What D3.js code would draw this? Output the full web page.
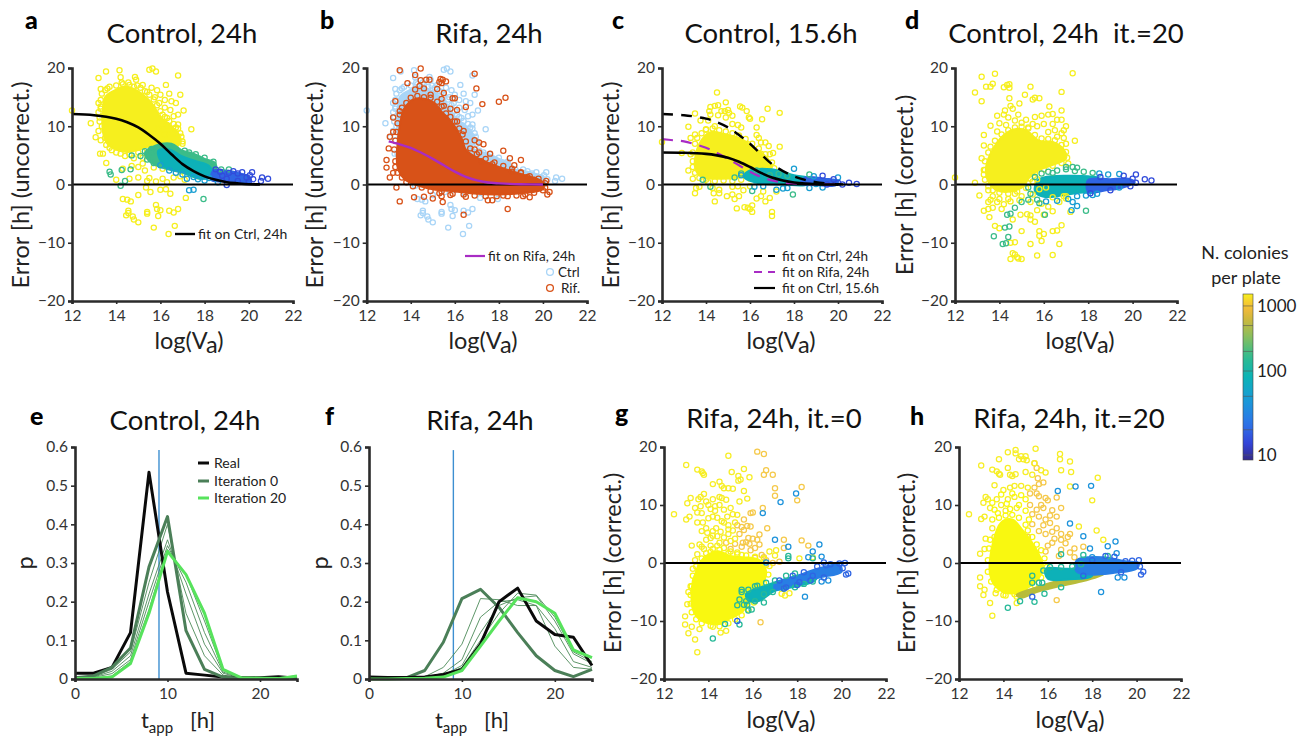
<!DOCTYPE html>
<html><head><meta charset="utf-8">
<script src="https://cdn.jsdelivr.net/npm/d3@7"></script>
<style>html,body{margin:0;padding:0;background:#fff}svg{display:block;font-family:Lato,"Noto Sans",sans-serif}</style>
</head><body><svg id="c" width="1312" height="737"></svg>
<script>
// ---------- colony-count groups ----------
const N_YELLOW=1500,N_GREEN=180,N_TEAL=80,N_CYAN=50,N_BLUE=20,N_DEEP=15;
const cbTicks=[10,100,1000];
const cbMinor=[10,20,50,100,200,500,1000];
const tBins=[0,2,4,6,8,10,12,14,16,18,20,22,24];

// ---------- fits ----------
const fitCtrl24=[[12,12.1],[13,11.9],[14,11.3],[14.5,10.7],[15,9.8],[15.5,8.5],[16,7],[16.5,5.2],[17,3.5],[17.5,2.3],[18,1.4],[18.5,.8],[19,.4],[19.5,.2],[20,.05],[20.5,.02]];
const fitRifa24=[[13,7.4],[13.5,6.9],[14,6.3],[14.5,5.4],[15,4.4],[15.5,3.3],[16,2.2],[16.5,1.3],[17,.7],[17.5,.35],[18,.2],[18.5,.1],[19,.05],[20,0]];
const fitRifa24Long=[[12,7.8],[12.5,7.6],...fitRifa24];
const fitCtrl156=[[12,5.5],[13,5.45],[14,5.25],[14.5,5],[15,4.6],[15.5,3.9],[16,3],[16.5,2],[17,1.2],[17.5,.7],[18,.35],[18.5,.15],[19,.05],[20,0]];

// ---------- panel a: Control 24h ----------
const aCoreYellow=[[13.4,12],[13.5,15],[14,16.3],[14.5,16.8],[15,16],[15.4,14.8],[15.7,13.5],[16,11.5],[16.5,10],[16.85,8.5],[16.9,7],[16.5,6.5],[16,6.6],[15.5,6.6],[15,5.9],[14.5,5.6],[14,6],[13.6,7],[13.4,9]];
const aCoreGreen=[[15.3,5.4],[15.8,6.7],[16.5,7],[17,5.8],[17.5,5.3],[18,4.4],[18.5,3.6],[18.4,1.5],[17.8,1],[17,2],[16,3],[15.5,4]];
const aCoreTeal=[[15.9,5.8],[16.4,6],[17,4.8],[17.6,4],[18.2,3.2],[18.4,1.4],[17.8,1],[17,2.2],[16.2,3]];
const aCoreBlue=[[18.4,2.4],[19,2.4],[19.8,1.7],[20,1.5],[20.1,.5],[19.5,.3],[18.8,.5],[18.3,.8]];
const aYellow=[[13.54,19.4],[14.15,19.6],[15.5,19.7],[15.64,19.9],[15.8,19.4],[16.8,18.7],[13.2,18.3],[14.2,18.4],[14.85,18.45],[14.9,18],[14.55,17.5],[14.25,17.5],[15.2,17.1],[16.25,17.1],[15.6,16.6],[13.3,16.4],[13.6,16.5],[15.85,16.2],[16,15.4],[16.4,15.6],[16.9,15.4],[16.2,14.5],[16.5,14.3],[16.7,14],[15.95,14],[16.45,12.8],[17.05,12.7],[16.8,12],[16.6,11.7],[17.4,9.5],[16.8,10.3],[16.9,8.8],[17,7.4],[12.85,10.5],[13.07,8.1],[12,12.7],[13.27,5.3],[13.4,5.3],[13.55,3.7],[14,.8],[13.2,14],[13.3,13],[13.25,11.5],[13.35,10],[13.5,8],[13.7,6.3],[14,5.5],[14.4,4.9],[14.8,4.5],[16.1,12],[16.3,11.4],[16.3,10.2],[16.7,9.8],[16.55,8.7],[16.2,13.2],[15.75,15],[15.4,15.9],[14.95,17],[15.3,2.4],[15.7,2.9],[16.1,2.7],[15.5,1.1],[15.8,.5],[16.1,1],[16.3,.4],[16.6,1.2],[16.9,1.4],[17.1,.8],[14.3,2.7],[14.6,1],[15,1.2],[15.4,.6],[15.2,3.6],[15.65,4.5],[14.3,-2.5],[14.5,-2.6],[14.66,-2.9],[14.55,-4.5],[14.55,-4.9],[14.45,-5.3],[15.4,-4.7],[15.4,-5],[14.75,-5.5],[14.8,-6],[15,-6.5],[15.7,-7.4],[15.8,-3.5],[15.85,-4.2],[16,-4.4],[15.9,-5.4],[16.4,-4.5],[16.6,-4.8],[16.8,-4.2],[16.65,-7.1],[16.37,-8.5],[17.15,-2.3],[15,-1.8],[15.35,-.5],[15.55,-1.3],[16,-.9],[16.25,-.8],[16.45,-1.6]];
const aEdge=[[13.3,14.5],[13.35,15.6],[13.5,16.2],[13.7,16.8],[14,17],[14.3,17.2],[14.6,17.1],[14.8,16.8],[15.1,16.6],[15.3,16],[15.5,15.4],[15.7,14.6],[15.85,13.6],[16,12.6],[16.2,11.6],[16.4,10.9],[16.6,10.4],[16.8,9.6],[16.95,8.2],[17,7],[16.7,6.2],[16.3,6.2],[15.8,6.3],[15.4,6],[15,5.5],[14.6,5.2],[14.2,5.3],[13.8,5.9],[13.55,6.8],[13.3,7.6],[13.2,9.2],[13.25,10.8],[13.2,12.4],[13.3,13.4],[13.45,11.9],[15.9,9.6],[16.2,8.6],[15.2,4.6],[15.45,5.2],[14.7,3.2],[15,3]];
const aGreen=[[13.7,2.2],[13.75,1.7],[14.25,2.5],[14.65,2.6],[14.4,.6],[14.2,-.2],[14.7,5],[15.1,4.9],[15.6,5.5],[17.95,-2.5],[17.3,5.5],[17.6,5.2],[18,4.6],[18.4,3.9],[18.75,2.6],[19.1,2.6],[17.1,5.8],[15.3,5.7],[15.6,6.1],[15.4,4.3],[15.7,3.7]];
const aTeal=[[17.3,-1],[17.5,-.9],[17.2,1],[17.7,.9],[18,.7],[18.6,.4],[18.2,1.1],[16.4,2.4],[16,3.3],[16.7,2],[17,1.7],[17.5,1.3]];
const aBlue=[[18.5,2.6],[19,1],[19.3,2.3],[19.7,2.1],[20.15,2.1],[20.2,.9],[20.6,1.2],[20.87,1],[20.05,1.6],[19,-.1],[18.8,1.5],[19.5,.6],[20,.5],[20.55,.6],[18.7,2.2],[19.1,2],[19.5,1.9],[19.9,1.2]];

// ---------- panel b: Rifampicin 24h ----------
const bCoreRif=[[13.4,3],[13.4,7],[13.5,10],[13.7,13],[14.2,14.7],[15,14.2],[15.4,12.5],[15.8,11],[16.3,8],[16.5,6],[17,4.6],[18,3],[19,1.8],[20,.4],[20,-.8],[19,-1.5],[18,-1.7],[17,-1.6],[16,-1.2],[15,-.8],[14.2,0],[13.7,1]];
const bRif=[[13.5,19.6],[14.45,19.9],[14.2,18.8],[14.45,17.9],[14.7,18],[14.85,18],[15.3,17.6],[15.35,18.1],[15.45,18],[15.6,17.7],[15.4,17.4],[16.9,19],[16.98,16.5],[17.25,13.8],[18,14.2],[18.3,14.9],[13.85,17.4],[14.2,16.3],[14.4,16.9],[14.6,16.5],[14.9,15.4],[15.2,16.4],[15.5,15.7],[15.9,14.8],[16,14.8],[16.5,13.3],[15.5,13.5],[15.8,13],[13.3,14.3],[13.5,12.6],[13.2,11.5],[15.4,14.7],[16.1,12.8],[16.1,10.8],[16.4,9.2],[16.9,7.6],[17.1,7.2],[17.3,6.9],[16.9,6],[17.1,5.5],[17.6,5.3],[17.2,4],[17.7,3.5],[18.2,5.8],[18.5,4.5],[19,4.2],[18.7,3.3],[18.6,2.2],[19,2.1],[19.3,1.3],[19.6,.8],[20.15,.6],[13.05,8.2],[13.2,9],[13,6.2],[12.9,4.2],[12.9,2.9],[13.05,1.2],[13.2,2],[13.35,-.5],[13.5,-2.9],[14.15,-2.2],[14.6,-2.1],[15,-2.4],[15.4,-2],[15.45,-3],[16.4,-5.2],[15.8,-1.8],[16.5,-2.1],[17.5,-2.7],[17.7,-2.7],[18.4,-4.2],[18.2,-1.9],[19.1,-2],[19.4,-2.2],[20.2,-1.7],[20.3,-1.3],[20.1,-.5],[15.3,-1.5]];
const bEdge=[[13.3,4],[13.25,6],[13.3,7.5],[13.35,9],[13.4,10.5],[13.5,12],[13.6,13.2],[13.8,14],[14,14.9],[14.3,15.2],[14.6,15],[14.9,14.9],[15.2,14.2],[15.4,13.4],[15.6,12.2],[15.8,11.6],[16,10.8],[16.2,9.6],[16.35,8.6],[16.5,7.4],[16.7,6.2],[17,5.2],[17.4,4.4],[17.8,3.8],[18.2,3.2],[18.6,2.7],[19,2],[19.4,1.4],[19.8,1],[20.1,.2],[20,-1],[19.6,-1.4],[19.2,-1.7],[18.8,-1.9],[18.4,-2],[17.9,-2],[17.4,-2],[16.9,-1.9],[16.4,-1.7],[15.9,-1.6],[15.4,-1.2],[14.9,-1.1],[14.5,-.5],[14.1,-.3],[13.8,.4],[13.6,1.2],[13.4,2],[13.3,3]];

// ---------- panel c: Control 15.6h ----------
const cCoreYellow=[[13.5,3],[13.7,7],[14.2,9],[14.9,8.6],[15.5,8],[16.2,6.3],[16.8,4.5],[17,3],[16.4,2],[15.5,1.2],[14.5,1],[13.8,1.3]];
const cCoreTeal=[[16,2.4],[17,2.6],[18,1.6],[18.7,1],[18.6,0],[17.5,0],[16.3,.3],[15.7,1.4]];
const cCoreBlue=[[18.5,1.2],[19.4,1],[20,.6],[19.9,-.1],[19,-.1],[18.3,.1]];
const cYellow=[[14.5,15.8],[13.5,12.2],[14.2,13.3],[14.4,13.5],[14.55,13.6],[14.9,14.1],[14.15,12.6],[14.7,12.6],[14.85,12.6],[15,12.8],[15.05,12.3],[15.55,13.4],[15.65,13.2],[15.85,12.6],[15.95,11.5],[16,11.3],[14.2,12],[14.55,11.9],[14.9,11.5],[15.2,11.8],[15.2,10.4],[15.45,10.2],[15.6,9.8],[16.55,11.2],[16.8,13],[17.35,12.3],[16.3,9.8],[13.2,9.9],[13.75,11],[14.1,11],[13.3,8],[13.5,8.6],[14,9.5],[14.4,10],[16.3,8.5],[16.4,8],[16.7,7.2],[16.5,7.2],[16.85,6.6],[17.35,6.5],[16.9,5.2],[17.05,5.4],[16.5,5.3],[15.9,6.9],[12,7.3],[12.9,5.4],[13.3,5.2],[13.2,2.4],[13.4,1],[13.55,-.6],[13.7,-.4],[13.5,-1.5],[14.1,.4],[14.3,-.6],[14.35,-1.5],[14.6,-.9],[14.6,-1.5],[14.4,-2.9],[14.95,-2],[15.2,-1.7],[15.3,-2.5],[15.2,-.4],[15.45,-.3],[15.7,-1],[15.5,-2],[15.4,-4.1],[15.75,-3.9],[15.9,-4],[16.1,-3.6],[16,-4.2],[16.1,-4.7],[16.3,-2.4],[16.5,-2],[16.7,-2.9],[16.9,-2.3],[17,-4.7],[17,-5.4],[16.6,-1.2],[17.2,-1.2],[16,-.3]];
const cEdge=[[13.4,4],[13.4,5.5],[13.5,7],[13.6,8],[13.8,8.8],[14,9.4],[14.3,9.6],[14.6,9.3],[14.9,9.1],[15.2,8.8],[15.5,8.4],[15.8,7.8],[16.1,7],[16.4,6.2],[16.7,5.2],[17,3.8],[17.1,2.8],[16.8,1.8],[16.4,1.4],[16,1],[15.6,.8],[15.2,.6],[14.8,.7],[14.4,.6],[14,.8],[13.7,1.1],[13.5,2],[13.4,3]];
const cGreen=[[13.85,.8],[14.2,-.4],[15.3,1.2],[16.1,-1.1],[17.95,-1.7],[18.7,1.7],[17.3,1.8],[17.7,1.5],[16.9,1.6],[16.3,2.4],[15.6,1.9]];
const cTeal=[[18,2.7],[17.2,-.9],[17.5,-.7],[17.7,-.6],[18.7,-.6],[19.3,-.5],[19,.1],[20,1.2],[18.9,1.4],[15.6,1.6],[16.2,-.4],[16.6,-.3]];
const cBlue=[[19.3,1.5],[20,.3],[20.2,0],[20.5,.3],[20.85,.1],[19.8,.9],[19.5,0]];

// ---------- panel d: Control 24h it.=20 ----------
const dCoreYellow=[[13.4,3],[13.7,6],[14.2,8.5],[14.7,9.5],[15.2,9.3],[15.8,7.5],[16.4,7.3],[16.9,6],[17,4.5],[16.5,3.5],[15.8,2.5],[15.3,1],[15.1,-.3],[14.5,-1.2],[13.9,-1],[13.5,.5]];
const dCoreTeal=[[15.7,.6],[16,1.2],[17,1.5],[18,1.4],[18.5,1],[18.5,-1.1],[17.6,-1.4],[16.8,-1.9],[16,-2.1],[15.6,-1.2]];
const dCoreBlue=[[18,.8],[19,.9],[19.8,1],[20.1,.4],[19.5,-.6],[18.8,-1],[18,-1.3]];
const dYellow=[[12.9,15.8],[13.2,18.5],[13.8,19],[13.2,14.3],[13.4,16.8],[13.6,16.8],[13.7,17.3],[14.2,16.7],[14.35,17.1],[14.45,17.2],[14.45,16.6],[15.4,16.8],[14.45,14.8],[15.15,15.4],[15.5,14.6],[15.6,14.9],[15.8,14.8],[16.8,15.9],[17.3,19.1],[16.25,13.4],[16.8,12.7],[14.9,13.9],[14.5,13.5],[14.25,12.7],[14.6,13],[13.9,11.8],[14.2,12],[14.4,11.5],[13.6,10.1],[13.3,8.5],[13.9,9.1],[17,10],[16.9,9.3],[17.4,7.5],[16.4,12.1],[16.6,11.1],[16.8,11.1],[16.2,12],[15.9,11.8],[15.6,11.6],[14.85,12],[15.2,11.1],[15.7,10],[16,10.4],[16.4,10.4],[16.8,8.8],[13.3,6.7],[17.1,3.6],[13.1,-1.9],[12.9,.3],[12,1.2],[13.3,-4.5],[13.5,-4.2],[13.7,-4],[13.55,-5.6],[13.8,-7.1],[14,-7.5],[14.7,-9.9],[14.5,-10],[15.4,-10.2],[15.9,-9.7],[15.8,-8],[16,-8.5],[15.8,-8.8],[15,-8],[16.4,-8],[16.6,-7.9],[16.8,-7],[16.7,-10.2],[15.7,-12.2],[16.4,-12.1],[14.5,-12.8],[14.6,-11.8],[14.7,-12],[14.8,-12.5],[14.85,-12.7],[15,-12.8],[14.6,-6],[14.95,-5.2],[15.25,-5.1],[15.4,-5.3],[15.4,-6],[15.6,-6.4],[15.7,-4.4],[16,-5.2],[16.4,-4.6],[17.2,-4.7],[13.5,-1],[13.7,-2],[14,-2.5],[14.4,-2.5],[14.7,-1.6],[15,-2],[15.4,-3],[15.9,-3.3],[16.2,-3.8],[16.7,-3],[17,-2],[13.2,4.5],[13.35,2.5],[15.3,9.8],[16.6,8.2],[17,7],[15.5,.5],[15.8,-.8],[16.1,-.5],[16.4,-2.2],[16.9,-2],[17,-2.4],[15.7,.9],[15.5,-1.7],[14,10.5],[14.3,10.2],[14.7,11],[15,10.6],[15.5,10.4],[16.2,9],[16.5,9.3],[16.9,8]];
const dEdge=[[13.3,2.5],[13.35,4],[13.5,5.5],[13.6,6.5],[13.8,7.5],[14.1,8.6],[14.4,9.3],[14.7,9.8],[15,9.9],[15.3,9.6],[15.6,8.5],[15.9,7.9],[16.2,7.8],[16.5,7.6],[16.8,6.8],[17,5.6],[17.05,4.6],[16.8,3.7],[16.4,3.2],[16,2.6],[15.6,2],[15.4,1],[15.3,.2],[15.2,-.6],[14.8,-1.2],[14.4,-1.6],[14,-1.4],[13.7,-1],[13.5,-.3],[13.35,.8],[13.3,1.7],[13.6,-2.6],[13.9,-3],[14.2,-3.4],[14.5,-2.9],[14.9,-2.7],[13.5,-3],[14.1,-4.2]];
const dGreen=[[14.25,-7.4],[14.45,-7.2],[13.75,-8.9],[14.4,-9],[14.15,-10.2],[14.3,-10.1],[14.35,-5.2],[14.5,-5],[14.7,-4],[15,-3],[15.3,-2.6],[16.05,-5.2],[17.9,-4.5],[15.8,-3.2],[17,3],[17.5,2.9],[17.3,3],[16.4,2],[15.6,1.3],[15.9,1.9],[16.2,2.2],[16.6,2.4],[17,2.6],[17.4,2.3],[17.8,2.2],[18.2,2],[15.3,-.5],[15.4,-1.6],[15.7,-2.6]];
const dTeal=[[17.5,-3.7],[17.25,-4.4],[17.3,-3],[18.5,1.9],[18.9,1.7],[19.4,1.8],[18.2,-1.8],[19.4,-.5],[16.1,-2.9],[16.6,-2.8],[17.1,-2.5],[17.5,-2],[17.9,-1.9],[18.4,-1.6]];
const dBlue=[[18.55,1.3],[19.6,1.5],[20.15,1.7],[20.15,.3],[20.55,.9],[20.85,.7],[19,-1],[19.9,-.3],[20,1],[18.1,-1.5]];

// ---------- panel e / f distributions ----------
const eReal=[.015,.015,.03,.12,.535,.225,.015,.01,.005,.003,.003,.006,.002];
const eIter0=[.003,.008,.03,.08,.29,.42,.125,.025,.005,.002,.002,.001,.005];
const eIterA=[.003,.007,.025,.07,.25,.4,.17,.06,.01,.002,.002,.001,.005];
const eIterB=[.002,.005,.02,.06,.22,.36,.22,.09,.015,.002,.002,.001,.006];
const eIterC=[.002,.004,.014,.05,.2,.345,.25,.12,.018,.003,.002,.001,.006];
const eIterD=[.001,.002,.008,.045,.18,.335,.27,.15,.022,.003,.002,.001,.007];
const eIter20=[.001,.001,.005,.04,.17,.33,.27,.17,.025,.003,.002,.001,.008];
const fReal=[.005,.004,.004,.005,.012,.025,.09,.2,.235,.15,.115,.108,.035];
const fIter0=[.002,.002,.003,.022,.095,.208,.232,.185,.12,.06,.022,.006,.025];
const fIterA=[.001,.001,.002,.006,.03,.09,.208,.205,.19,.19,.085,.03,.025];
const fIterB=[.001,.001,.001,.004,.015,.05,.16,.2,.205,.19,.13,.045,.03];
const fIterC=[.001,.001,.001,.003,.01,.035,.12,.19,.21,.215,.15,.065,.04];
const fIterD=[.001,.001,.001,.002,.008,.03,.1,.17,.222,.217,.16,.07,.045];
const fIter20=[0,0,.001,.002,.005,.022,.085,.15,.21,.2,.17,.075,.055];

// ---------- panel g: Rifa 24h it.=0 ----------
const gCoreYellow=[[13.3,-3],[13.3,-8],[13.7,-10],[14.5,-10.5],[15,-9.5],[15.5,-8.5],[16,-6],[16.4,-4],[16.6,-1.5],[16.3,.5],[15.5,1],[15,1.2],[14.5,2],[14,1.5],[13.6,0],[13.4,-2]];
const gCoreTeal=[[15.7,-5.3],[16.5,-4],[17.5,-2.7],[18.5,-1.8],[19,-1.2],[18.8,-3],[18,-4],[17,-4.8],[16.3,-6.5],[15.8,-6.5]];
const gCoreBlue=[[17,-3.6],[18,-2.2],[19,-.9],[19.9,-.3],[20,-1.5],[19,-2.5],[18,-3.5],[17,-4.6]];
const gYellow=[[12.45,8.4],[13,16.9],[13.5,16.1],[13.7,15.8],[13.75,15.5],[13.8,15.2],[14.9,18.5],[15.05,15.7],[15.35,15],[15.6,16.2],[15.35,14.2],[15.45,14.4],[15.85,14.8],[14.5,14],[14.2,13.6],[14.6,13.3],[14.7,12.9],[14.9,12.9],[15.1,12.8],[15.6,12.4],[15.75,11.1],[15.4,10.6],[13.8,11.9],[13.65,11.4],[13.55,11],[13.2,11.2],[13.05,10.3],[13,7.5],[13.15,8],[13.5,7],[13.7,8.6],[14.3,9.8],[14.8,10.9],[15,9.5],[15.3,8.3],[14,10],[13.4,9.5],[14.5,11.4],[14.2,8],[14.6,7.2],[14.9,6.5],[13.9,6],[13.95,5.2],[14.2,4.7],[13.25,3],[13.6,3.2],[14.2,5.5],[14.7,7],[14.1,3],[14.5,3.5],[13.8,2.4],[14.9,5],[13.1,-5],[13.05,-7.1],[13.2,-4],[12.95,-9.2],[12.95,-10.6],[13.1,-12.1],[13.4,-13.2],[13.5,-15.4],[13.6,-11.4],[13.25,-11],[14.55,-12],[14.8,-11.7],[14.2,-11],[17.3,-5.3],[17.45,-5.6],[17.65,-5.2],[17,1.3],[16.75,2],[17.05,2.2],[18.7,1],[18.1,.8],[13.5,1.5],[13.7,2.8],[13.9,1.7],[14.2,2.4],[14.4,3],[14.7,2.6],[15,2],[15.3,1.8],[15.5,1.4],[13.4,.5],[13.3,-1],[13.9,4],[14.1,4.3],[14.4,4.6],[14.7,4.4],[15,3.8],[15.2,4.2],[13.7,5.5],[14.35,6],[14.55,5.4],[14.9,5.8],[15.1,5.6],[15.2,7],[14.4,7.8],[14.85,8],[15.1,8.4],[13.75,7],[14,7.7],[14.3,9],[14.7,9.2],[13.5,8.7],[13.65,9.8],[14.1,9.3],[14.5,10],[13.9,10.6],[14.2,11],[14.6,11.2]];
const gEdge=[[13.25,-4],[13.2,-5.5],[13.2,-7],[13.25,-8.5],[13.45,-9.7],[13.7,-10.4],[14.1,-10.8],[14.5,-10.9],[14.9,-10.4],[15.2,-9.7],[15.5,-9],[15.8,-8],[16.05,-6.8],[16.3,-5],[16.5,-3.5],[16.7,-2],[16.75,-.5],[16.5,.8],[16.1,1.1],[15.7,1.3],[15.3,1.5],[14.9,1.7],[14.5,2.3],[14.1,1.9],[13.7,.8],[13.45,-.6],[13.3,-2.2]];
const gOrange=[[16.2,19.2],[16.5,18.8],[16.6,16],[16.5,15.2],[16.9,15.2],[17,12.9],[17,11.6],[18.2,13.1],[18,10.8],[16.45,9.5],[16.65,6],[15.9,8.6],[16,8.7],[15.6,7.5],[15.9,6.3],[15.3,6.5],[15.6,5.7],[15.4,5],[15.8,4.3],[16,4.2],[16.3,4.9],[16.2,4],[16.3,3.2],[15.2,3.3],[15.5,2.8],[15.9,2.2],[16.4,1.4],[16.5,1],[16.1,.9],[17.4,4],[18.2,3.9],[18.5,3],[17.4,2.6],[16.35,-10.2],[14.8,3.5],[15,2.4],[15.7,3.6],[16.6,-.3],[17.2,.2],[15.5,6.2],[15.75,6.4],[15.55,3.5],[15.85,3.3],[16.1,2.6],[16.6,.5],[16.9,0]];
const gTeal=[[15.3,-7.3],[15.4,-6.3],[15.6,-7.2],[15.75,-7.2],[15.8,-8.2],[15.95,-8],[15.5,-4.6],[16.1,-4],[16.5,-6.8],[14.2,-13],[15.4,-10.6],[14.75,-10.5],[17.6,1.2],[17.6,.8],[18.7,.8],[15.5,-5],[15.8,-4.6],[16.2,-3.9],[16.6,-3.4],[17,-3],[17.5,-2.2],[17.9,-1.8],[15.7,-6.6],[16.1,-6.6],[16.5,-5.4],[16.9,-5],[17.4,-4.4],[17.9,-4.2],[18.3,-3.6],[18.7,-3.2]];
const gCyan=[[17.25,10.5],[17.95,12],[16.45,8.6],[17,4],[17.6,2.8],[19,3.2],[18.7,2],[19.1,1.1],[18.35,-5.8],[16.6,.1],[19.1,-3.2],[19.4,-3],[18.5,1]];
const gBlue=[[15.3,-10],[19.9,-.1],[20.15,0],[20.2,-2],[20.3,-1.8],[20.05,-.9],[19.5,-.2],[19.2,.1],[17.5,-4.2],[18.1,-3.3],[18.7,-2.2],[17.2,-3],[17.8,-2.2],[18.3,-1.6],[18.9,-.6],[19.3,-.4],[19.2,-2.5],[18.6,-3],[18,-3.8],[17.4,-4.4]];

// ---------- panel h: Rifa 24h it.=20 ----------
const hCoreYellow=[[13.4,-2],[13.5,3],[13.9,7],[14.4,7.5],[14.9,5.5],[15.3,3.5],[15.6,1.5],[15.8,-1],[15.5,-3],[15,-4.5],[14.5,-5.2],[14,-5],[13.6,-3.8]];
const hCoreOlive=[[14.6,-5.5],[15.5,-4.2],[16.5,-3],[17.5,-2.5],[18.5,-2],[17.5,-3.2],[16.5,-4],[15.5,-5],[14.8,-6]];
const hCoreTeal=[[15.9,-1],[17,-1],[18,-.5],[18,-2.2],[17,-2.8],[16,-2.7]];
const hCoreBlue=[[17.3,.5],[18.5,1],[19.5,.3],[20.1,0],[20,-1],[19,-1.7],[18,-2],[17.3,-1.5]];
const hYellow=[[12.45,8.4],[13,16.8],[13.5,16.1],[13.7,15.8],[13.8,15.4],[13.85,15.2],[14.2,16.4],[13.8,17.9],[14.2,19.1],[14.55,19.5],[14.55,18.9],[14.8,18.4],[14.7,17.9],[14.9,17.9],[15,18.4],[15.05,17.7],[15.45,19.7],[15.4,17.2],[15,15.7],[15.3,15.2],[15.7,16],[15.9,15.6],[14.3,15.2],[14.55,15.3],[14.4,15],[13.6,13.4],[14,12.6],[14.3,13],[14.5,13.3],[14.8,13.3],[15.1,13],[13.2,11.4],[13.1,10.4],[13.3,11],[13,7.6],[13.15,8],[13.4,9.5],[13.7,11],[13.9,10],[14.2,11],[14.5,11.4],[14.1,9],[14.6,9.5],[13.5,6],[13.6,4.5],[13.2,4.2],[13.15,2.4],[12.95,1.6],[12.95,-2.5],[12.95,-4],[13.1,-5.5],[13.15,-4.6],[13.4,-6.9],[13.5,-9.1],[13.65,-5.2],[14,-5.5],[14.5,-5.4],[14.6,-6.9],[13.7,-2],[17,13.2],[17.05,15.7],[16.6,16],[16.55,17.9],[16.55,18.8],[17,17.5],[18.25,14.7],[18,10.8],[18.2,5.6],[18.5,4],[17.4,6.3]];
const hEdge=[[13.5,7.5],[13.8,7.8],[14.1,8.2],[14.4,8.3],[14.7,7.8],[15,6.6],[15.1,5.6],[15.3,4.5],[15.5,3.2],[15.7,2.2],[15.85,.8],[15.95,-.7],[15.7,-2.5],[15.4,-3.8],[15,-5],[14.6,-5.8],[14.1,-5.6],[13.7,-4.6],[13.45,-3.2],[13.3,-1.5],[13.3,.5],[13.35,2.5],[13.4,4],[14.3,9.3],[14.7,10],[15,9],[15,11],[14.4,12],[14.8,11.7],[13.6,9.2],[13.5,10.4],[13.9,11.8],[13.75,8.6],[14.15,10.2],[15.15,7.5]];
const hOrange=[[15.4,17.2],[15.5,16.4],[15.55,14.6],[15.6,13.6],[15.8,13.9],[15.5,12],[15.6,11.5],[15.9,11.2],[16,10.8],[16.4,11.3],[16.6,9.5],[16.2,9.1],[16.4,8],[15.8,9.5],[15.2,10],[15.3,8.4],[15.6,8],[15.9,7.5],[16.1,6.9],[15.3,6.7],[15.6,5.5],[15.9,5],[16.2,5.4],[16.3,4.2],[16.6,5],[16.9,4.5],[17,5],[16.8,3.4],[16.6,2.3],[17,1.8],[17.2,2.5],[17.6,2.8],[16,3],[16.5,1.2],[15.9,2],[16.4,-6.4],[15.1,4.5],[17.2,1],[15.2,12],[15.4,13],[15.7,10],[16.1,8.2],[16.4,6],[16.6,4],[15.5,9.2],[15.8,6.5],[16.2,3.5]];
const hTeal=[[14.2,-7.7],[15.4,-6.7],[14.75,-6.6],[15.3,-2.2],[15.3,-3.4],[15.6,-3.4],[15.75,-3.4],[15.8,-1.3],[16.6,1.5],[17.6,1.4],[16.6,-4.2],[15.85,-5.3],[18.7,1.2],[16.1,-.7],[16.6,-.7],[17.1,-.6],[17.5,-.2]];
const hCyan=[[16.45,12.4],[17.25,13.2],[17.95,13.3],[17,6.8],[17.6,4.6],[18.7,2.9],[19.05,3.7],[19.1,1.7],[18.4,-5],[17.9,2.5],[19.15,-2.5],[19.45,-2.5],[18,1]];
const hBlue=[[15.3,-5.8],[20.1,.5],[20.2,-2],[20.3,-1.5],[20.15,-.6],[19.8,.4],[19.5,.3],[18,.5],[17.6,-2.2],[18.6,1.2],[19,1.1],[19.3,-1.6]];

// ---------- parula colour map ----------
const cbPos=d3.scaleLog().domain([9,10,100,1000,1500]).range([0,.03,.536,.928,1]);
const parula=d3.scaleLinear().domain([0,.1,.22,.36,.5,.62,.74,.84,.92,1])
  .range(["#352a87","#3344d8","#2d74e8","#1a9ad8","#0cb3b5","#2fbb90","#86bf5f","#c8b83e","#f6b93a","#f6ef1e"]);
const col=n=>parula(cbPos(n));

const svg=d3.select("#c");
const INK="#2b2b2b";
function label(x,y,str,size,opt={}){
  return svg.append("text").attr("x",x).attr("y",y).attr("font-size",size)
    .attr("text-anchor",opt.anchor||"start").attr("fill",opt.fill||"#111").attr("font-weight",opt.weight||400).text(str);
}
function axes(g,x,y,xt,yt,xfmt,yfmt,y0px){
  const ax=g.append("g").attr("transform",`translate(0,${y0px})`).call(d3.axisBottom(x).tickValues(xt).tickSize(3).tickPadding(6).tickFormat(xfmt));
  const ay=g.append("g").attr("transform",`translate(${x.range()[0]},0)`).call(d3.axisLeft(y).tickValues(yt).tickSize(4).tickPadding(3).tickFormat(yfmt));
  [ax,ay].forEach(a=>{a.select(".domain").attr("stroke",INK).attr("stroke-width",2.6);
    a.selectAll(".tick line").attr("stroke",INK).attr("stroke-width",1.6);
    a.selectAll("text").attr("font-size",15.5).attr("fill","#333").attr("font-family","Lato");});
}
function yTitle(px,cy,str){
  svg.append("text").attr("transform",`translate(${px},${cy}) rotate(-90)`).attr("text-anchor","middle").attr("font-size",23.5).attr("fill","#222").text(str);
}
function logLabel(cx,by){
  const t=svg.append("text").attr("x",cx).attr("y",by).attr("text-anchor","middle").attr("font-size",23.5).attr("fill","#222");
  t.append("tspan").text("log(V");t.append("tspan").attr("dy",4).text("a");t.append("tspan").attr("dy",-4).text(")");
}
function scatterPanel(o){
  const x=d3.scaleLinear().domain([12,22]).range(o.xr), y=d3.scaleLinear().domain([-20,20]).range(o.yr);
  const g=svg.append("g");
  const blob=d3.line().x(d=>x(d[0])).y(d=>y(d[1])).curve(d3.curveCatmullRomClosed);
  o.layers.forEach(c=>{
    if(c.blob) g.append("path").attr("d",blob(c.blob)).attr("fill",c.color).attr("stroke",c.color).attr("stroke-width",2);
    else g.append("g").selectAll("circle").data(c.pts).join("circle")
      .attr("cx",d=>x(d[0])).attr("cy",d=>y(d[1])).attr("r",2.6).attr("fill","none").attr("stroke",c.color).attr("stroke-width",1.25);
  });
  g.append("line").attr("x1",x(12)).attr("x2",x(22)).attr("y1",y(0)).attr("y2",y(0)).attr("stroke","#000").attr("stroke-width",2);
  const ln=d3.line().x(d=>x(d[0])).y(d=>y(d[1])).curve(d3.curveCatmullRom);
  (o.fits||[]).forEach(f=>g.append("path").attr("d",ln(f.pts)).attr("fill","none").attr("stroke",f.color).attr("stroke-width",f.w||2.4).attr("stroke-dasharray",f.dash||null));
  axes(g,x,y,[12,14,16,18,20,22],[-20,-10,0,10,20],d3.format("d"),d3.format("d"),o.yr[0]);
}
function distPanel(o){
  const x=d3.scaleLinear().domain([0,24]).range(o.xr), y=d3.scaleLinear().domain([0,.6]).range([679,447]);
  const g=svg.append("g");
  const ln=d3.line().x((d,i)=>x(tBins[i])).y(d=>y(d));
  g.append("line").attr("x1",x(9.08)).attr("x2",x(9.08)).attr("y1",y(.592)).attr("y2",y(0)).attr("stroke","#3d8fd1").attr("stroke-width",1.4);
  o.thin.forEach(s=>g.append("path").attr("d",ln(s)).attr("fill","none").attr("stroke","#4c8a58").attr("stroke-width",.9));
  o.order.forEach(k=>{const s=o[k],c={real:"#0a0a0a",it0:"#4b7f58",it20:"#57e35c"}[k];
    g.append("path").attr("d",ln(s)).attr("fill","none").attr("stroke",c).attr("stroke-width",3).attr("stroke-linejoin","round");});
  axes(g,x,y,[0,10,20],[0,.1,.2,.3,.4,.5,.6],d3.format("d"),d=>d===0?"0":d3.format(".1f")(d),679);
}

const Y1=[301,68],Y2=[679,447];
const yel=col(N_YELLOW);
const cGr=col(N_GREEN),cTe=col(N_TEAL),cCy=col(N_CYAN),cBl=col(N_BLUE),cDp=col(N_DEEP);
// a
scatterPanel({xr:[72,293],yr:Y1,layers:[{blob:aCoreYellow,color:yel},{pts:aYellow,color:yel},{pts:aEdge,color:yel},{blob:aCoreGreen,color:cGr},{blob:aCoreTeal,color:cTe},{blob:aCoreBlue,color:cBl},{pts:aGreen,color:cGr},{pts:aTeal,color:cCy},{pts:aBlue,color:cDp}],
  fits:[{pts:fitCtrl24,color:"#000",w:2.6}]});
// b
const ctrlBlue="#a9d5f7",rif="#d85218";
scatterPanel({xr:[366.7,587],yr:Y1,layers:[{blob:aCoreYellow,color:ctrlBlue},{blob:aCoreGreen,color:ctrlBlue},{blob:aCoreBlue,color:ctrlBlue},{pts:aYellow,color:ctrlBlue},{pts:aEdge,color:ctrlBlue},{pts:aGreen,color:ctrlBlue},{pts:aTeal,color:ctrlBlue},{pts:aBlue,color:ctrlBlue},{blob:bCoreRif,color:rif},{pts:bRif,color:rif},{pts:bEdge,color:rif}],
  fits:[{pts:fitRifa24,color:"#a82cc4",w:2.4}]});
// c
scatterPanel({xr:[662,882],yr:Y1,layers:[{blob:cCoreYellow,color:yel},{pts:cYellow,color:yel},{pts:cEdge,color:yel},{blob:cCoreTeal,color:cTe},{blob:cCoreBlue,color:cBl},{pts:cGreen,color:cGr},{pts:cTeal,color:cCy},{pts:cBlue,color:cDp}],
  fits:[{pts:fitCtrl24,color:"#000",w:2.4,dash:"11 8"},{pts:fitRifa24Long,color:"#a82cc4",w:2.2,dash:"11 8"},{pts:fitCtrl156,color:"#000",w:2.6}]});
// d
scatterPanel({xr:[955,1177],yr:Y1,layers:[{blob:dCoreYellow,color:yel},{blob:dCoreTeal,color:cTe},{blob:dCoreBlue,color:cBl},{pts:dYellow,color:yel},{pts:dEdge,color:yel},{pts:dGreen,color:cGr},{pts:dTeal,color:cCy},{pts:dBlue,color:cDp}]});
// e, f
distPanel({xr:[75,297],real:eReal,it0:eIter0,it20:eIter20,thin:[eIterA,eIterB,eIterC,eIterD],order:["real","it0","it20"]});
distPanel({xr:[369,592],real:fReal,it0:fIter0,it20:fIter20,thin:[fIterA,fIterB,fIterC,fIterD],order:["it0","real","it20"]});
// g
const gy="#f9f810",yelB="#f7ee25",oraB="#f5c94a";
scatterPanel({xr:[664,886],yr:Y2,layers:[{pts:gOrange,color:oraB},{pts:gYellow,color:yelB},{pts:gEdge,color:gy},{blob:gCoreYellow,color:gy},{blob:gCoreTeal,color:cTe},{blob:gCoreBlue,color:col(28)},{pts:gTeal,color:col(140)},{pts:gCyan,color:col(40)},{pts:gBlue,color:cBl}]});
// h
scatterPanel({xr:[959,1181],yr:Y2,layers:[{pts:hOrange,color:oraB},{pts:hYellow,color:yelB},{pts:hEdge,color:gy},{blob:hCoreYellow,color:gy},{blob:hCoreOlive,color:"#b8bc3a"},{blob:hCoreTeal,color:cTe},{blob:hCoreBlue,color:col(28)},{pts:hTeal,color:col(140)},{pts:hCyan,color:col(40)},{pts:hBlue,color:cBl}]});

// titles
[["Control, 24h",182,43],["Rifa, 24h",489,43],["Control, 15.6h",771,43],["Control, 24h  it.=20",1066,43],
 ["Control, 24h",185,430],["Rifa, 24h",480,430],["Rifa, 24h, it.=0",774,428],["Rifa, 24h, it.=20",1069,428]]
 .forEach(([s,x,y])=>label(x,y,s,27.5,{anchor:"middle"}).style("white-space","pre"));
// letters
[["a",25,29],["b",320,29],["c",612,29],["d",905,29],["e",30,425],["f",325,425],["g",615,422],["h",910,425]]
 .forEach(([s,x,y])=>label(x,y,s,25,{weight:900,fill:"#000"}));
// axis titles
yTitle(29,185,"Error [h] (uncorrect.)");yTitle(323,185,"Error [h] (uncorrect.)");yTitle(619,185,"Error [h] (uncorrect.)");yTitle(913,185,"Error [h] (correct.)");
yTitle(621,563,"Error [h] (correct.)");yTitle(915,563,"Error [h] (correct.)");
logLabel(189,349);logLabel(483,349);logLabel(781,349);logLabel(1080,349);logLabel(781,728);logLabel(1070,728);
yTitle(33,563,"p");yTitle(328,563,"p");
function tapp(cx,by){const t=svg.append("text").attr("x",cx).attr("y",by).attr("text-anchor","middle").attr("font-size",22).attr("fill","#222").style("white-space","pre");
  t.append("tspan").text("t");t.append("tspan").attr("dy",5).attr("font-size",15).text("app");t.append("tspan").attr("dy",-5).text("   [h]");}
tapp(178,728);tapp(472,728);

// legends
function leg(x1,x2,y,color,w,dash){svg.append("line").attr("x1",x1).attr("x2",x2).attr("y1",y).attr("y2",y).attr("stroke",color).attr("stroke-width",w).attr("stroke-dasharray",dash||null);}
const LF=13.5,LC={fill:"#222"};
leg(175,195,234,"#000",2.4);label(198,239,"fit on Ctrl, 24h",14,LC);
leg(465,485,256,"#a82cc4",2.2);label(488,261,"fit on Rifa, 24h",LF,LC);
svg.append("circle").attr("cx",550).attr("cy",272).attr("r",3.4).attr("fill","none").attr("stroke",ctrlBlue).attr("stroke-width",1.3);
label(558,277,"Ctrl",LF,LC);
svg.append("circle").attr("cx",550).attr("cy",288).attr("r",3.4).attr("fill","none").attr("stroke",rif).attr("stroke-width",1.3);
label(561,293,"Rif.",LF,LC);
leg(754,775,256,"#000",2,"8 6");label(782,261,"fit on Ctrl, 24h",LF,LC);
leg(754,775,272,"#a82cc4",2,"8 6");label(782,277,"fit on Rifa, 24h",LF,LC);
leg(754,775,288,"#000",2.2);label(782,293,"fit on Ctrl, 15.6h",LF,LC);
leg(198,209,463,"#0a0a0a",3);label(214,468,"Real",14,LC);
leg(198,209,481,"#4b7f58",3);label(214,486,"Iteration 0",14,LC);
leg(198,209,498,"#57e35c",3);label(214,503,"Iteration 20",14,LC);

// colour bar
const cbY=d3.scaleLinear().domain([0,1]).range([460,294]);
const defs=svg.append("defs"),lg=defs.append("linearGradient").attr("id","pg").attr("x1",0).attr("x2",0).attr("y1",1).attr("y2",0);
d3.range(0,1.001,.05).forEach(t=>lg.append("stop").attr("offset",t).attr("stop-color",parula(t)));
svg.append("rect").attr("x",1243).attr("y",294).attr("width",10).attr("height",166).attr("fill","url(#pg)").attr("stroke","#444").attr("stroke-width",.6);
svg.append("g").selectAll("line").data(cbMinor).join("line").attr("x1",1243).attr("x2",1253).attr("y1",d=>cbY(cbPos(d))).attr("y2",d=>cbY(cbPos(d))).attr("stroke","#555").attr("stroke-width",.6);
cbTicks.forEach(v=>label(1257,cbY(cbPos(v))+6,String(v),17,LC));
label(1245,259,"N. colonies",18,{anchor:"middle",fill:"#222"});
label(1246,284,"per plate",18,{anchor:"middle",fill:"#222"});
</script></body></html>
